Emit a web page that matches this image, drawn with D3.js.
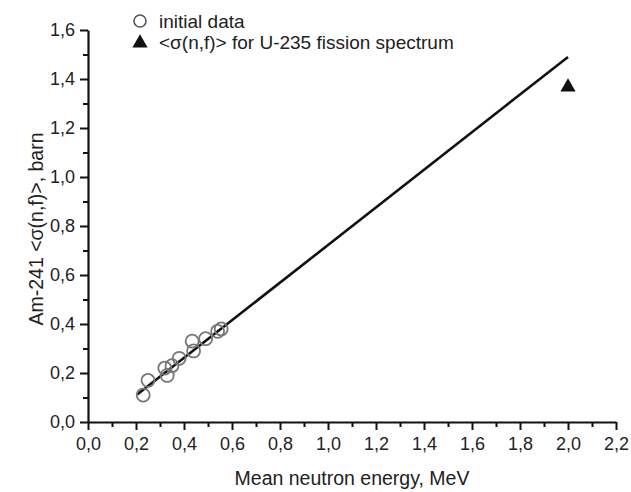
<!DOCTYPE html>
<html>
<head>
<meta charset="utf-8">
<script src="https://cdn.jsdelivr.net/npm/d3@7"></script>
<style>
  body { margin: 0; background: #fff; }
  text { font-family: "Liberation Sans", Arial, sans-serif; fill: #222; }
</style>
</head>
<body>
<div id="plot"></div>
<script>
// initial data (mean energy, MeV / cross-section, barn)
var energy = [0.23, 0.25, 0.32, 0.33, 0.35, 0.38, 0.434, 0.44, 0.49, 0.54, 0.555];
var sigma = [0.11, 0.17, 0.22, 0.19, 0.23, 0.26, 0.33, 0.29, 0.34, 0.37, 0.38];

// U-235 fission spectrum point
var spectrumX = [2.0];
var spectrumY = [1.367];

// fitted line end points
var fitX = [0.205, 2.0];
var fitY = [0.112, 1.49];

var xTicks = [0, 0.2, 0.4, 0.6, 0.8, 1.0, 1.2, 1.4, 1.6, 1.8, 2.0, 2.2];
var yTicks = [0, 0.2, 0.4, 0.6, 0.8, 1.0, 1.2, 1.4, 1.6];

var legendLabels = ["initial data", "<\u03c3(n,f)> for U-235 fission spectrum"];

var W = 631, H = 492;
var margin = { top: 30, right: 15, bottom: 70, left: 88 };
var width = W - margin.left - margin.right;
var height = H - margin.top - margin.bottom;

var x = d3.scaleLinear().domain([0, 2.2]).range([0, width]);
var y = d3.scaleLinear().domain([0, 1.6]).range([height, 0]);

var fmt = function (d) { return d3.format(".1f")(d).replace(".", ","); };

var svg = d3.select("#plot")
  .append("svg")
  .attr("width", W)
  .attr("height", H);

var g = svg.append("g")
  .attr("transform", "translate(" + margin.left + "," + margin.top + ")");

// minor ticks
var xMinor = d3.range(0.1, 2.2, 0.2);
var yMinor = d3.range(0.1, 1.6, 0.2);

g.append("g")
  .attr("transform", "translate(0," + height + ")")
  .call(d3.axisBottom(x).tickValues(xMinor).tickSize(5).tickFormat(""))
  .call(s => s.select(".domain").remove())
  .call(s => s.selectAll("line").attr("stroke", "#111").attr("stroke-width", 2));

g.append("g")
  .call(d3.axisLeft(y).tickValues(yMinor).tickSize(5).tickFormat(""))
  .call(s => s.select(".domain").remove())
  .call(s => s.selectAll("line").attr("stroke", "#111").attr("stroke-width", 2));

// major axes
var xAxis = g.append("g")
  .attr("transform", "translate(0," + height + ")")
  .call(d3.axisBottom(x).tickValues(xTicks).tickSize(8).tickSizeOuter(0).tickFormat(fmt).tickPadding(7));

var yAxis = g.append("g")
  .call(d3.axisLeft(y).tickValues(yTicks).tickSize(8).tickSizeOuter(0).tickFormat(fmt).tickPadding(5));

[xAxis, yAxis].forEach(function (a) {
  a.select(".domain").attr("stroke", "#111").attr("stroke-width", 2.2);
  a.selectAll(".tick line").attr("stroke", "#111").attr("stroke-width", 2);
  a.selectAll(".tick text")
    .attr("font-size", 18)
    .attr("fill", "#222")
    .style("font-family", "'Liberation Sans', Arial, sans-serif");
});

// fit line
g.append("path")
  .datum(d3.zip(fitX, fitY))
  .attr("fill", "none")
  .attr("stroke", "#111")
  .attr("stroke-width", 2.6)
  .attr("d", d3.line().x(d => x(d[0])).y(d => y(d[1])));

// initial data circles
g.selectAll(".pt")
  .data(d3.zip(energy, sigma))
  .join("circle")
  .attr("class", "pt")
  .attr("cx", d => x(d[0]))
  .attr("cy", d => y(d[1]))
  .attr("r", 6.5)
  .attr("fill", "none")
  .attr("stroke", "#777")
  .attr("stroke-width", 1.8);

var tri = d3.symbol().type(d3.symbolTriangle).size(100);

g.selectAll(".tri")
  .data(d3.zip(spectrumX, spectrumY))
  .join("path")
  .attr("class", "tri")
  .attr("transform", d => "translate(" + x(d[0]) + "," + y(d[1]) + ")")
  .attr("d", tri)
  .attr("fill", "#111");

// legend
var legend = svg.append("g").attr("transform", "translate(140,21)");
legend.append("circle")
  .attr("r", 6).attr("fill", "none").attr("stroke", "#555").attr("stroke-width", 1.6);
legend.append("path")
  .attr("transform", "translate(0,22)")
  .attr("d", tri).attr("fill", "#111");
legend.selectAll("text")
  .data(legendLabels)
  .join("text")
  .attr("x", 19)
  .attr("y", (d, i) => i * 21 + 7)
  .attr("font-size", 19)
  .text(d => d);

// axis titles
svg.append("text")
  .attr("x", margin.left + width / 2)
  .attr("y", 485)
  .attr("text-anchor", "middle")
  .attr("font-size", 19.5)
  .text("Mean neutron energy, MeV");

svg.append("text")
  .attr("transform", "translate(43," + (margin.top + height / 2 + 3) + ") rotate(-90)")
  .attr("text-anchor", "middle")
  .attr("font-size", 19.5)
  .text("Am-241 <\u03c3(n,f)>, barn");
</script>
</body>
</html>
